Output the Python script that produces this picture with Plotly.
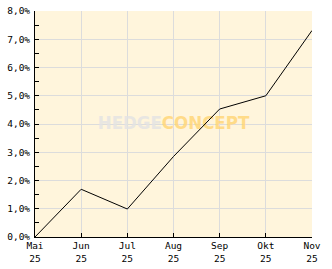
import plotly.graph_objects as go

months = ["Mai<br>25", "Jun<br>25", "Jul<br>25", "Aug<br>25", "Sep<br>25", "Okt<br>25", "Nov<br>25"]
values = [0.0, 1.69, 0.99, 2.85, 4.53, 5.0, 7.31]
y_ticks = [0, 1, 2, 3, 4, 5, 6, 7, 8]
y_labels = ["0,0%", "1,0%", "2,0%", "3,0%", "4,0%", "5,0%", "6,0%", "7,0%", "8,0%"]

x_idx = list(range(len(months)))
font = dict(family="DejaVu Sans Mono", size=9.5, color="#000000")

fig = go.Figure()
fig.add_trace(go.Scatter(
    x=[3], y=[4.0], mode="text",
    text=["<b><span style='color:#E4E4E4'>HEDGE</span><span style='color:#FFD77A'>CONCEPT</span></b>"],
    textfont=dict(family="DejaVu Sans Condensed", size=18.5),
    opacity=0.85, hoverinfo="skip", showlegend=False, cliponaxis=False,
))
fig.add_trace(go.Scatter(
    x=x_idx, y=values, mode="lines",
    line=dict(color="#000000", width=1), showlegend=False,
))

fig.update_layout(
    width=332, height=269,
    margin=dict(l=35, r=20, t=11, b=32),
    paper_bgcolor="#FFFFFF", plot_bgcolor="#FFF5DC",
    font=font,
)
fig.update_xaxes(
    range=[0, 6], tickmode="array", tickvals=x_idx, ticktext=months,
    showgrid=True, gridcolor="#DCDCDC", gridwidth=1,
    showline=True, linecolor="#000000", linewidth=1,
    ticks="inside", ticklen=4, tickcolor="#000000", zeroline=False,
    tickfont=font, automargin=False,
)
fig.update_yaxes(
    range=[0, 8], tickmode="array", tickvals=y_ticks, ticktext=y_labels,
    showgrid=True, gridcolor="#DCDCDC", gridwidth=1,
    showline=True, linecolor="#000000", linewidth=1,
    ticks="inside", ticklen=4, tickcolor="#000000", zeroline=False,
    minor=dict(tickvals=[0.5, 1.5, 2.5, 3.5, 4.5, 5.5, 6.5, 7.5], ticks="inside", ticklen=4, tickcolor="#000000", showgrid=False),
    tickfont=font, ticklabelstandoff=2, automargin=False,
)
fig.write_html("out.html")
